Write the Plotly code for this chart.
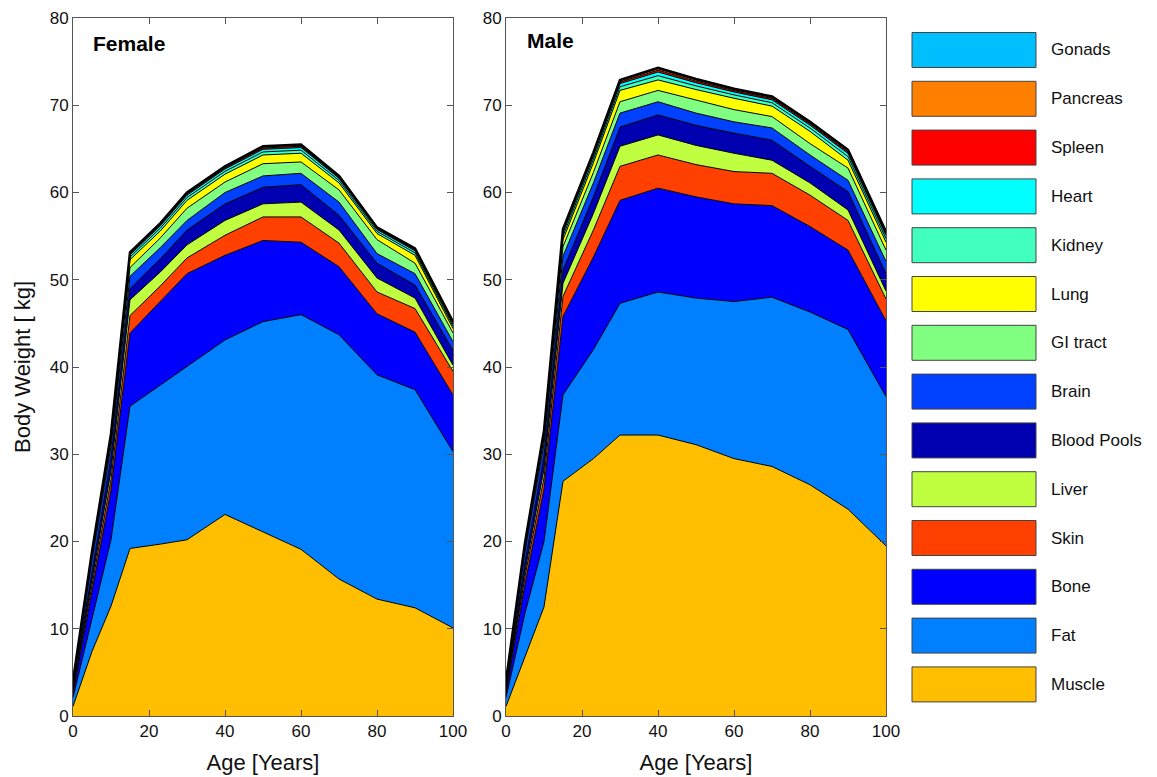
import plotly.graph_objects as go

ages = [0, 5, 10, 15, 23, 30, 40, 50, 60, 70, 80, 90, 100]

organs = ["Muscle", "Fat", "Bone", "Skin", "Liver", "Blood Pools", "Brain",
          "GI tract", "Lung", "Kidney", "Heart", "Spleen", "Pancreas", "Gonads"]

colors = ["#FFBF00", "#0080FF", "#0000FF", "#FF4000", "#BFFF40", "#0000B0", "#0040FF",
          "#80FF80", "#FFFF00", "#40FFBF", "#00FFFF", "#FF0000", "#FF8000", "#00BFFF"]

# Female organ weights [kg]
f_muscle = [1.1, 7.4, 12.6, 19.2, 19.7, 20.2, 23.1, 21.1, 19.1, 15.7, 13.4, 12.4, 10.1]
f_fat = [1.0, 3.9, 7.6, 16.3, 18.2, 19.8, 20.0, 24.1, 26.9, 28.0, 25.7, 25.0, 20.2]
f_bone = [0.5, 3.0, 5.7, 8.4, 9.6, 10.7, 9.7, 9.3, 8.3, 7.8, 7.0, 6.6, 6.5]
f_skin = [0.3, 0.8, 1.2, 2.0, 1.8, 1.8, 2.3, 2.7, 2.9, 2.7, 2.5, 2.7, 2.7]
f_liver = [0.2, 0.6, 1.0, 1.8, 1.6, 1.5, 1.7, 1.5, 1.7, 1.5, 1.6, 1.2, 0.7]
f_blood = [0.3, 1.0, 1.5, 1.3, 1.5, 1.7, 1.9, 1.9, 2.0, 1.7, 1.7, 1.5, 1.7]
f_brain = [0.4, 1.2, 1.3, 1.4, 1.3, 1.1, 1.3, 1.3, 1.3, 1.5, 1.1, 1.3, 1.0]
f_gi = [0.1, 0.4, 0.6, 1.0, 1.1, 1.4, 1.2, 1.4, 1.3, 1.4, 1.6, 1.2, 1.0]
f_lung = [0.07, 0.25, 0.35, 0.9, 0.8, 0.9, 0.9, 1.0, 1.0, 0.8, 0.7, 0.9, 0.5]
f_kidney = [0.03, 0.11, 0.18, 0.30, 0.32, 0.32, 0.32, 0.35, 0.35, 0.28, 0.25, 0.28, 0.28]
f_heart = [0.03, 0.09, 0.15, 0.25, 0.27, 0.27, 0.27, 0.30, 0.30, 0.24, 0.21, 0.24, 0.24]
f_spleen = [0.01, 0.05, 0.08, 0.13, 0.14, 0.14, 0.14, 0.15, 0.15, 0.12, 0.11, 0.12, 0.12]
f_pancreas = [0.01, 0.04, 0.06, 0.11, 0.12, 0.12, 0.12, 0.13, 0.13, 0.10, 0.09, 0.10, 0.10]
f_gonads = [0.005, 0.01, 0.03, 0.06, 0.05, 0.05, 0.05, 0.07, 0.07, 0.06, 0.04, 0.06, 0.06]

# Male organ weights [kg]
m_muscle = [1.1, 6.8, 12.5, 26.9, 29.5, 32.2, 32.2, 31.1, 29.5, 28.6, 26.5, 23.7, 19.5]
m_fat = [1.0, 5.0, 7.5, 9.9, 12.5, 15.1, 16.4, 16.8, 18.0, 19.4, 19.8, 20.6, 17.1]
m_bone = [0.5, 3.3, 6.0, 9.0, 10.6, 11.8, 11.9, 11.6, 11.2, 10.5, 9.8, 9.1, 8.7]
m_skin = [0.3, 0.9, 1.3, 2.3, 3.1, 3.9, 3.8, 3.7, 3.7, 3.7, 3.6, 3.4, 2.5]
m_liver = [0.2, 0.6, 1.0, 1.5, 1.9, 2.3, 2.3, 2.2, 2.1, 1.5, 1.4, 1.2, 0.9]
m_blood = [0.3, 1.0, 1.5, 1.5, 1.9, 2.2, 2.3, 2.3, 2.3, 2.3, 1.9, 2.1, 2.0]
m_brain = [0.4, 1.3, 1.4, 1.6, 1.6, 1.6, 1.5, 1.4, 1.3, 1.4, 1.3, 1.3, 1.4]
m_gi = [0.1, 0.4, 0.6, 1.1, 1.2, 1.3, 1.3, 1.5, 1.4, 1.3, 1.3, 1.4, 1.3]
m_lung = [0.07, 0.25, 0.4, 0.8, 1.1, 1.3, 1.2, 1.2, 1.3, 1.2, 1.4, 0.9, 0.9]
m_kidney = [0.03, 0.11, 0.18, 0.42, 0.42, 0.42, 0.49, 0.42, 0.39, 0.39, 0.39, 0.42, 0.42]
m_heart = [0.03, 0.09, 0.15, 0.36, 0.36, 0.36, 0.42, 0.36, 0.33, 0.33, 0.33, 0.36, 0.36]
m_spleen = [0.01, 0.05, 0.08, 0.18, 0.18, 0.18, 0.21, 0.18, 0.16, 0.16, 0.16, 0.18, 0.18]
m_pancreas = [0.01, 0.04, 0.06, 0.16, 0.16, 0.16, 0.18, 0.16, 0.14, 0.14, 0.14, 0.16, 0.16]
m_gonads = [0.005, 0.01, 0.03, 0.08, 0.08, 0.08, 0.10, 0.08, 0.08, 0.08, 0.08, 0.08, 0.08]

female = [f_muscle, f_fat, f_bone, f_skin, f_liver, f_blood, f_brain, f_gi, f_lung,
          f_kidney, f_heart, f_spleen, f_pancreas, f_gonads]
male = [m_muscle, m_fat, m_bone, m_skin, m_liver, m_blood, m_brain, m_gi, m_lung,
        m_kidney, m_heart, m_spleen, m_pancreas, m_gonads]

x_ticks = [0, 20, 40, 60, 80, 100]
y_ticks = [0, 10, 20, 30, 40, 50, 60, 70, 80]

W, H = 1157, 777
FONT = "Liberation Sans, Arial, sans-serif"

fig = go.Figure()
n = len(organs)
for i, (vals, name, col) in enumerate(zip(female, organs, colors)):
    fig.add_trace(go.Scatter(x=ages, y=vals, stackgroup="f", mode="lines", name=name,
                             line=dict(color="black", width=2.5 if i == n - 1 else 1),
                             fillcolor=col, showlegend=False, xaxis="x", yaxis="y"))
for i, (vals, name, col) in enumerate(zip(male, organs, colors)):
    fig.add_trace(go.Scatter(x=ages, y=vals, stackgroup="m", mode="lines", name=name,
                             line=dict(color="black", width=2.5 if i == n - 1 else 1),
                             fillcolor=col, showlegend=False, xaxis="x2", yaxis="y2"))

def px_x(p):
    return p / W

def px_y(p):
    return 1 - p / H

axis_common = dict(showline=True, linecolor="#555555", linewidth=1, mirror="ticks",
                   ticks="inside", ticklen=6, tickcolor="#555555", showgrid=False,
                   zeroline=False, automargin=False,
                   tickfont=dict(family=FONT, size=17, color="#111111"))

y_dom = [px_y(716), px_y(18)]
fig.update_layout(
    width=W, height=H,
    margin=dict(l=0, r=0, t=0, b=0, autoexpand=False),
    paper_bgcolor="white", plot_bgcolor="white",
    font=dict(family=FONT, color="#111111"),
    xaxis=dict(domain=[px_x(73), px_x(453)], range=[0, 100], tickvals=x_ticks,
               title=dict(text="Age [Years]", font=dict(size=22), standoff=14),
               anchor="y", **axis_common),
    yaxis=dict(domain=y_dom, range=[0, 80], tickvals=y_ticks,
               title=dict(text="Body Weight [ kg]", font=dict(size=22), standoff=12),
               anchor="x", **axis_common),
    xaxis2=dict(domain=[px_x(506), px_x(886)], range=[0, 100], tickvals=x_ticks,
                title=dict(text="Age [Years]", font=dict(size=22), standoff=14),
                anchor="y2", **axis_common),
    yaxis2=dict(domain=y_dom, range=[0, 80], tickvals=y_ticks, anchor="x2", **axis_common),
    showlegend=False,
)

# panel titles
fig.add_annotation(xref="paper", yref="paper", x=px_x(91), y=px_y(44), text="<b>Female</b>",
                   showarrow=False, xanchor="left", yanchor="middle",
                   font=dict(family=FONT, size=21, color="black"))
fig.add_annotation(xref="paper", yref="paper", x=px_x(525), y=px_y(41), text="<b>Male</b>",
                   showarrow=False, xanchor="left", yanchor="middle",
                   font=dict(family=FONT, size=21, color="black"))

# custom legend (top: Gonads ... bottom: Muscle)
legend_order = list(range(n))[::-1]
for i, k in enumerate(legend_order):
    cy = 50 + i * 48.8
    fig.add_shape(type="rect", xref="paper", yref="paper",
                  x0=px_x(912), x1=px_x(1036), y0=px_y(cy + 17.5), y1=px_y(cy - 17.5),
                  fillcolor=colors[k], line=dict(color="#444444", width=1))
    fig.add_annotation(xref="paper", yref="paper", x=px_x(1049), y=px_y(cy), text=organs[k],
                       showarrow=False, xanchor="left", yanchor="middle",
                       font=dict(family=FONT, size=17, color="#111111"))

fig.write_html("out.html", config={"displayModeBar": False},
               post_script="document.body.style.margin='0';document.body.style.overflow='hidden';")
